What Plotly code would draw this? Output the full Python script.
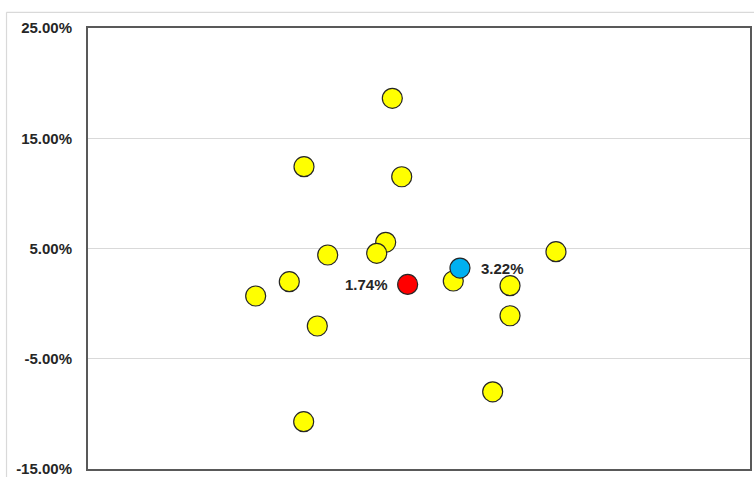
import plotly.graph_objects as go

# Data
others_x = [45.97, 32.63, 47.39, 44.97, 43.61, 36.21, 70.69, 30.41, 25.33,
            55.18, 63.75, 63.75, 34.64, 61.13, 32.58]
others_y = [18.62, 12.42, 11.51, 5.56, 4.56, 4.41, 4.71, 1.99, 0.69,
            2.05, 1.63, -1.10, -2.03, -8.00, -10.71]
red_x = [48.29]
red_y = [1.74]
blue_x = [56.19]
blue_y = [3.22]
y_ticks = [25, 15, 5, -5, -15]
y_tick_labels = ["25.00%", "15.00%", "5.00%", "-5.00%", "-15.00%"]

FONT = "Liberation Sans, Arial, sans-serif"
OUTLINE = dict(color="#262626", width=1.2)

fig = go.Figure()
fig.add_trace(go.Scatter(x=others_x, y=others_y, mode="markers",
                         marker=dict(size=20, color="#FFFF00", line=OUTLINE),
                         showlegend=False, hoverinfo="x+y"))
fig.add_trace(go.Scatter(x=red_x, y=red_y, mode="markers",
                         marker=dict(size=20, color="#FF0000", line=OUTLINE),
                         showlegend=False))
fig.add_trace(go.Scatter(x=blue_x, y=blue_y, mode="markers",
                         marker=dict(size=20, color="#00B0F0", line=OUTLINE),
                         showlegend=False))

for xv, yv, side in [(red_x[0], red_y[0], "left"), (blue_x[0], blue_y[0], "right")]:
    fig.add_annotation(x=xv, y=yv, text=f"<b>{yv:.2f}%</b>", showarrow=False,
                       xanchor="right" if side == "left" else "left",
                       xshift=-18 if side == "left" else 19,
                       font=dict(family=FONT, size=15, color="#262626"))

# outer chart border (light gray)
fig.add_shape(type="line", xref="paper", yref="paper", x0=-0.1231, x1=1.1,
              y0=1.0356, y1=1.0356, line=dict(color="#d9d9d9", width=1.2))
fig.add_shape(type="line", xref="paper", yref="paper", x0=-0.1231, x1=-0.1231,
              y0=-0.1, y1=1.0356, line=dict(color="#d9d9d9", width=1.2))

fig.update_layout(
    width=754, height=477,
    margin=dict(l=88, r=4, t=28, b=8, autoexpand=False),
    paper_bgcolor="white", plot_bgcolor="white",
    font=dict(family=FONT, size=15, color="#262626"),
)
fig.update_xaxes(range=[0, 100], showticklabels=False, showgrid=False,
                 zeroline=False, showline=True, mirror=True,
                 linecolor="#595959", linewidth=2, ticks="", automargin=False)
fig.update_yaxes(range=[-15, 25], tickvals=y_ticks, ticktext=y_tick_labels,
                 tickfont=dict(family=FONT, size=15, color="#262626", weight="bold"),
                 showgrid=True, gridcolor="#d9d9d9", gridwidth=1,
                 zeroline=False, showline=True, mirror=True,
                 linecolor="#595959", linewidth=2, ticks="",
                 ticklabelstandoff=11, ticklabeloverflow="allow", automargin=False)

fig.write_html("out.html", config={"displayModeBar": False},
               post_script="document.body.style.margin='0';document.body.style.overflow='hidden';")
